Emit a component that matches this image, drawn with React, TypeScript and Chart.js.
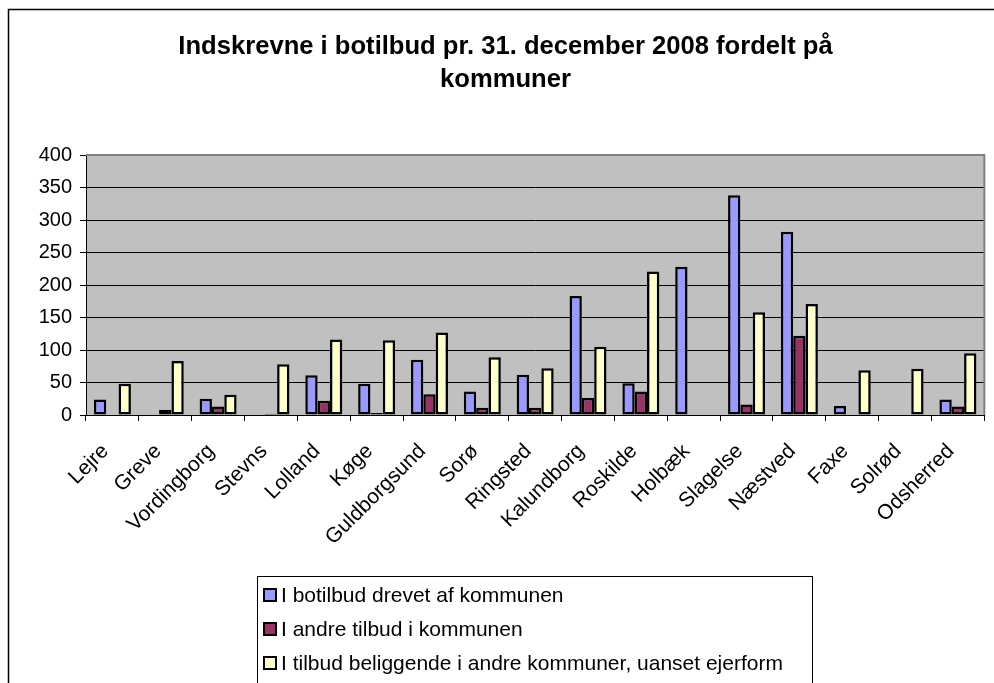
import React, { useEffect, useRef } from "react";
import { Chart, registerables } from "chart.js";

Chart.register(...registerables);

const TITLE_LINES = ["Indskrevne i botilbud pr. 31. december 2008 fordelt på", "kommuner"];

const CATEGORIES = [
  "Lejre", "Greve", "Vordingborg", "Stevns", "Lolland", "Køge", "Guldborgsund", "Sorø",
  "Ringsted", "Kalundborg", "Roskilde", "Holbæk", "Slagelse", "Næstved", "Faxe", "Solrød", "Odsherred",
];

const SERIES_NAMES = [
  "I botilbud drevet af kommunen",
  "I andre tilbud i kommunen",
  "I tilbud beliggende i andre kommuner, uanset ejerform",
];

const DREVET_AF_KOMMUNEN = [24, 0, 25, 0, 61, 48, 85, 36, 62, 183, 49, 228, 338, 282, 14, 0, 24];
const ANDRE_TILBUD = [0, 8, 13, 2, 22, 3, 32, 11, 11, 26, 36, 0, 16, 122, 0, 0, 13];
const ANDRE_KOMMUNER = [48, 83, 31, 78, 116, 115, 127, 89, 72, 105, 221, 0, 158, 171, 69, 71, 95];

const Y_MIN = 0;
const Y_MAX = 400;
const Y_STEP = 50;

const COLORS = ["#9999FF", "#993366", "#FFFFCC"];
const FONT = "'Liberation Sans', Arial, sans-serif";

const decorPlugin = {
  id: "decor",
  beforeDraw(chart: any) {
    const { ctx, chartArea } = chart;
    ctx.save();
    ctx.fillStyle = "#ffffff";
    ctx.fillRect(0, 0, chart.width, chart.height);
    ctx.fillStyle = "#C0C0C0";
    ctx.fillRect(chartArea.left, chartArea.top, chartArea.right - chartArea.left, chartArea.bottom - chartArea.top);
    ctx.restore();
  },
  afterDraw(chart: any) {
    const { ctx, chartArea } = chart;
    ctx.save();
    // plot area top/right border (gray)
    ctx.strokeStyle = "#808080";
    ctx.lineWidth = 2;
    ctx.beginPath();
    ctx.moveTo(chartArea.left, chartArea.top);
    ctx.lineTo(chartArea.right, chartArea.top);
    ctx.lineTo(chartArea.right, chartArea.bottom);
    ctx.stroke();

    // outer chart border
    ctx.strokeStyle = "#000000";
    ctx.lineWidth = 1.5;
    ctx.strokeRect(8.5, 9.5, 1000, 700);

    // legend box
    ctx.lineWidth = 1;
    ctx.strokeStyle = "#000000";
    ctx.strokeRect(257.5, 576.5, 555, 130);
    ctx.font = `21px ${FONT}`;
    ctx.textBaseline = "middle";
    ctx.textAlign = "left";
    SERIES_NAMES.forEach((name, i) => {
      const cy = 595 + i * 34;
      ctx.fillStyle = COLORS[i];
      ctx.fillRect(264, cy - 6, 12, 12);
      ctx.lineWidth = 2;
      ctx.strokeStyle = "#000";
      ctx.strokeRect(264, cy - 6, 12, 12);
      ctx.fillStyle = "#000";
      ctx.fillText(name, 281, cy + 1);
    });
    ctx.restore();
  },
};

export default function App() {
  const canvasRef = useRef<HTMLCanvasElement | null>(null);

  useEffect(() => {
    if (!canvasRef.current) return;
    const seriesData = [DREVET_AF_KOMMUNEN, ANDRE_TILBUD, ANDRE_KOMMUNER];
    const chart = new Chart(canvasRef.current, {
      type: "bar",
      data: {
        labels: CATEGORIES,
        datasets: SERIES_NAMES.map((name, i) => ({
          label: name,
          data: seriesData[i],
          backgroundColor: COLORS[i],
          borderColor: "#000000",
          borderWidth: 2.5,
          borderSkipped: false,
          categoryPercentage: 0.7,
          barPercentage: 1.0,
        })),
      },
      options: {
        animation: false,
        responsive: true,
        maintainAspectRatio: false,
        layout: { padding: { left: 26, right: 9, top: 30, bottom: 118 } },
        plugins: {
          legend: { display: false },
          tooltip: { enabled: false },
          title: {
            display: true,
            text: TITLE_LINES,
            color: "#000",
            font: { family: FONT, size: 25.6, weight: "bold", lineHeight: 1.3 },
            padding: { top: 0, bottom: 58.5 },
          },
        },
        scales: {
          x: {
            grid: { drawOnChartArea: false, color: "#000", tickLength: 6, offset: true },
            border: { color: "#000", width: 1 },
            ticks: {
              autoSkip: false,
              maxRotation: 45,
              minRotation: 45,
              color: "#000",
              font: { family: FONT, size: 21 },
              padding: 18,
              labelOffset: -7,
            },
            afterFit(scale: any) {
              scale.height = 150;
            },
          },
          y: {
            min: Y_MIN,
            max: Y_MAX,
            grid: { color: "#000", tickLength: 6, lineWidth: 1 },
            border: { color: "#000", width: 1 },
            ticks: {
              stepSize: Y_STEP,
              color: "#000",
              font: { family: FONT, size: 20 },
              padding: 8,
            },
            afterFit(scale: any) {
              scale.width = 60;
            },
          },
        },
      },
      plugins: [decorPlugin],
    });
    return () => chart.destroy();
  }, []);

  return (
    <div style={{ position: "absolute", left: 0, top: 0, width: 994, height: 683 }}>
      <canvas ref={canvasRef} />
    </div>
  );
}
